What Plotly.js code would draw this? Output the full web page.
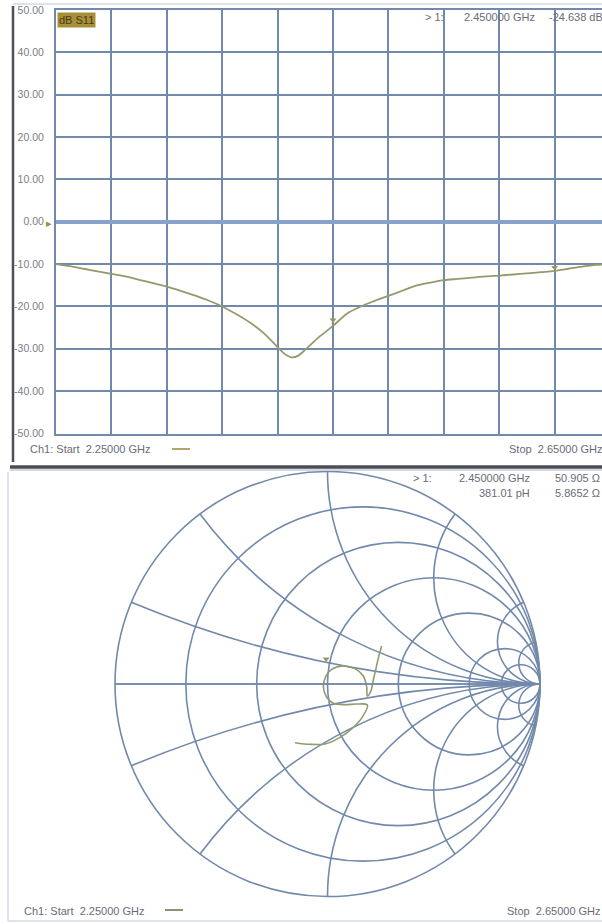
<!DOCTYPE html>
<html><head><meta charset="utf-8">
<script src="https://cdn.plot.ly/plotly-3.0.1.min.js"></script>
<style>html,body{margin:0;padding:0;background:#fff;}#chart{width:602px;height:924px;}</style>
</head><body><div id="chart"></div>
<script>
// ---- Data: S11 log magnitude (dB) vs frequency (GHz)
const freqGHz = [2.25,2.26,2.27,2.28,2.29,2.30,2.31,2.32,2.33,2.34,2.35,2.36,2.37,2.38,2.39,2.40,2.41,2.415,2.42,2.425,2.43,2.44,2.45,2.46,2.47,2.48,2.49,2.50,2.51,2.52,2.53,2.54,2.55,2.56,2.57,2.58,2.59,2.60,2.61,2.62,2.63,2.64,2.65];
const s11dB   = [-10.0,-10.5,-11.1,-11.7,-12.3,-12.9,-13.7,-14.5,-15.3,-16.3,-17.4,-18.6,-20.0,-21.8,-23.8,-26.3,-29.6,-31.2,-32.0,-31.6,-30.2,-27.2,-24.6,-21.7,-20.0,-18.7,-17.5,-16.3,-15.1,-14.4,-13.8,-13.5,-13.2,-12.9,-12.7,-12.45,-12.2,-11.9,-11.6,-11.1,-10.6,-10.2,-10.0];
const markerFreq = [2.45, 2.61];
const markerDB   = [-23.2, -10.8];
const yTickVals = [50,40,30,20,10,0,-10,-20,-30,-40,-50];
const yTickText = ["50.00","40.00","30.00","20.00","10.00","0.00","-10.00","-20.00","-30.00","-40.00","-50.00"];
const xGridVals = [2.25,2.29,2.33,2.37,2.41,2.45,2.49,2.53,2.57,2.61,2.65];

// ---- Data: S11 on Smith chart (normalized impedance z = r + jx)
const smithReal = [0.6407,0.7288,0.8338,0.9839,1.1604,1.3180,1.4257,1.2911,1.1554,1.0387,0.9797,0.9614,0.9831,1.0299,1.1360,1.2816,1.4007,1.4513,1.4497,1.5046,1.5486,1.5679,1.5609,1.5381];
const smithImag = [-0.3929,-0.4534,-0.5118,-0.5291,-0.5015,-0.4269,-0.2950,-0.2499,-0.2285,-0.1908,-0.1111,-0.0181,0.0740,0.1429,0.1948,0.1892,0.1086,-0.0376,-0.1703,-0.1135,0.0611,0.2452,0.4338,0.6091];
const smithMarkerReal = [0.9600];
const smithMarkerImag = [0.2300];
const rGridVals = [0.2,0.5,1,2,5,10];
const xGridValsSmith = [-10,-5,-2,-1,-0.5,-0.2,0,0.2,0.5,1,2,5,10];

// ---- Layout helpers (pixel -> paper)
const W = 602, H = 924;
const px = x => x / W;
const py = y => 1 - y / H;

const gridCol = '#7189ab';
const traceCol = '#939a6c';
const txtCol = '#686c76';
const fnt = {family: 'Liberation Sans, Arial, sans-serif', size: 11, color: txtCol};

const traces = [
  {x: freqGHz, y: s11dB, type: 'scatter', mode: 'lines',
   line: {color: traceCol, width: 1.8, shape: 'spline', smoothing: 0.8}, xaxis: 'x', yaxis: 'y', showlegend: false, hoverinfo: 'skip'},
  {x: markerFreq, y: markerDB, type: 'scatter', mode: 'markers',
   marker: {symbol: 'triangle-down', size: 6, color: '#9a9560'}, xaxis: 'x', yaxis: 'y', showlegend: false},
  {type: 'scattersmith', real: smithReal, imag: smithImag, mode: 'lines',
   line: {color: traceCol, width: 1.6, shape: 'spline', smoothing: 0.9}, subplot: 'smith', showlegend: false},
  {type: 'scattersmith', real: smithMarkerReal, imag: smithMarkerImag, mode: 'markers',
   marker: {symbol: 'triangle-down', size: 6, color: '#9a9560'}, subplot: 'smith', showlegend: false}
];

function ann(text, x, y, xanchor, opts) {
  return Object.assign({text: text, x: px(x), y: py(y), xref: 'paper', yref: 'paper',
    xanchor: xanchor, yanchor: 'middle', showarrow: false, font: fnt}, opts || {});
}

const annotations = [
  ann('dB S11', 57, 20, 'left', {bgcolor: '#a88f3a', font: {family: fnt.family, size: 11, color: '#4a3c12'}, borderpad: 1}),
  ann('&#9656;', 54, 223, 'right', {font: {family: fnt.family, size: 11, color: '#a08c3a'}}),
  ann('&gt; 1:', 423, 17, 'left'),
  ann('2.450000 GHz', 462, 17, 'left'),
  ann('-24.638 dB', 547, 17, 'left'),
  ann('Ch1: Start  2.25000 GHz', 28, 449, 'left'),
  ann('Stop  2.65000 GHz', 507, 449, 'left'),
  ann('&gt; 1:', 411, 478, 'left'),
  ann('2.450000 GHz', 532, 478, 'right'),
  ann('50.905 \u03A9', 553, 478, 'left'),
  ann('381.01 pH', 532, 493, 'right'),
  ann('5.8652 \u03A9', 553, 493, 'left'),
  ann('Ch1: Start  2.25000 GHz', 22, 911, 'left'),
  ann('Stop  2.65000 GHz', 603, 911, 'right')
];

function pline(x0, y0, x1, y1, color, width) {
  return {type: 'line', xref: 'paper', yref: 'paper', x0: px(x0), y0: py(y0), x1: px(x1), y1: py(y1),
          line: {color: color, width: width}, layer: 'above'};
}
const shapes = [
  pline(13, 4, 602, 4, '#d3dae4', 1.5),
  pline(13, 6, 13, 462, '#4d5058', 2.5),
  pline(10, 467, 602, 467, '#4a4d55', 3.5),
  pline(10, 470, 602, 470, '#c5ccd8', 1.5),
  pline(172, 449, 190, 449, '#b8a46a', 2),
  pline(8, 472, 8, 921, '#d5dbe4', 1.5),
  pline(8, 921, 602, 921, '#d5dbe4', 1.5),
  pline(165, 910, 183, 910, '#8d9275', 2)
];

const layout = {
  width: W, height: H,
  margin: {l: 0, r: 0, t: 0, b: 0},
  paper_bgcolor: '#ffffff', plot_bgcolor: '#ffffff',
  showlegend: false,
  font: fnt,
  xaxis: {domain: [px(56), 1], range: [2.25, 2.6442], tickmode: 'array', tickvals: xGridVals,
          showticklabels: false, ticks: '', showgrid: true, gridcolor: gridCol, gridwidth: 2,
          showline: true, mirror: true, linecolor: gridCol, linewidth: 2, zeroline: false, fixedrange: true},
  yaxis: {domain: [py(433.5), py(10)], range: [-50, 50], tickmode: 'array', tickvals: yTickVals, ticktext: yTickText,
          ticks: '', showgrid: true, gridcolor: gridCol, gridwidth: 2,
          zeroline: true, zerolinecolor: '#86a3cb', zerolinewidth: 4,
          showline: true, linecolor: gridCol, linewidth: 2, ticklabelstandoff: 8,
          tickfont: {family: fnt.family, size: 10.5, color: '#7a7e86'}, fixedrange: true},
  smith: {
    domain: {x: [px(115), px(540)], y: [py(897), py(471)]},
    bgcolor: 'rgba(0,0,0,0)',
    realaxis: {tickvals: rGridVals, showticklabels: false, ticks: '', showgrid: true,
               gridcolor: gridCol, gridwidth: 1.6, showline: true, linecolor: gridCol, linewidth: 1.6},
    imaginaryaxis: {tickvals: xGridValsSmith, showticklabels: false, ticks: '', showgrid: true,
               gridcolor: gridCol, gridwidth: 1.6, showline: true, linecolor: gridCol, linewidth: 1.6}
  },
  annotations: annotations,
  shapes: shapes
};

Plotly.newPlot('chart', traces, layout, {staticPlot: true, displayModeBar: false});
</script>
</body></html>
